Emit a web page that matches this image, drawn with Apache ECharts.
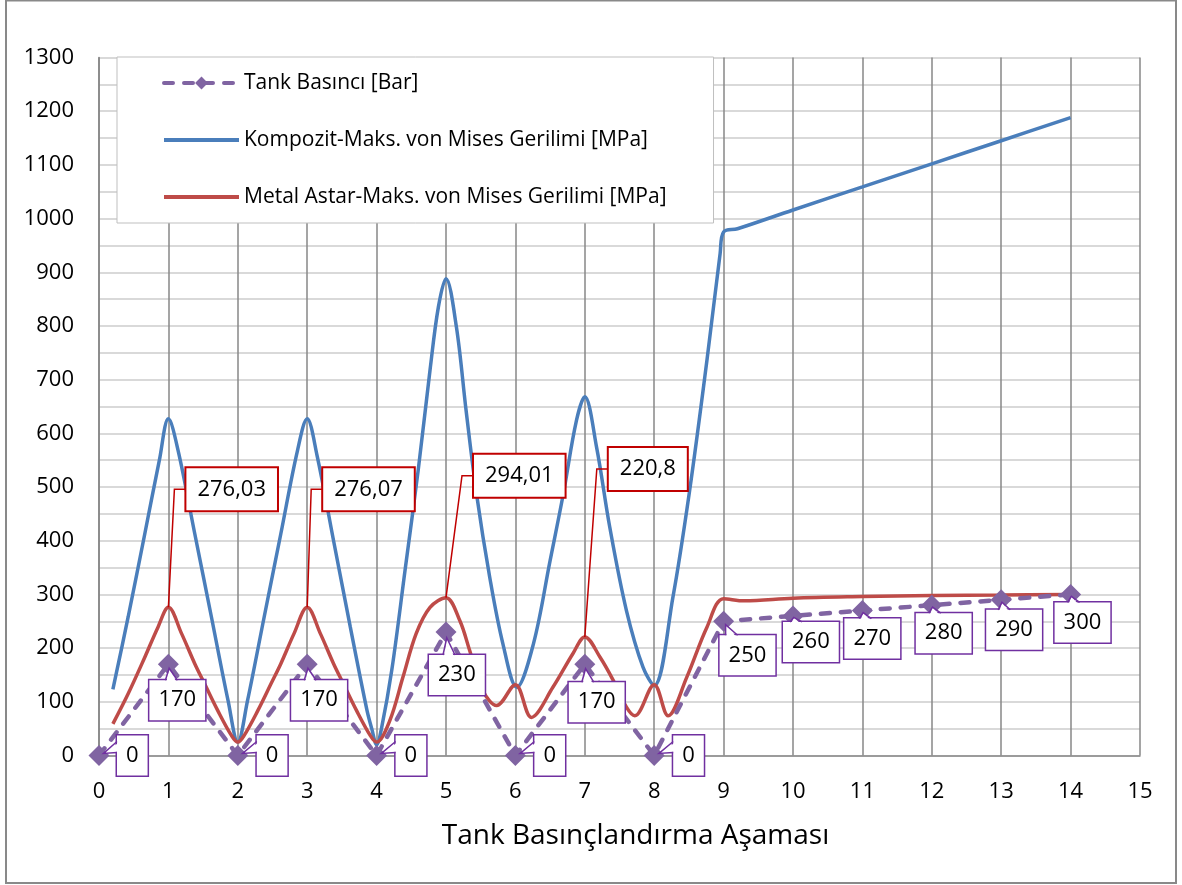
<!DOCTYPE html>
<html><head><meta charset="utf-8">
<script src="https://cdn.jsdelivr.net/npm/echarts@6/dist/echarts.min.js"></script>
<style>html,body{margin:0;padding:0;background:#fff}#c{width:1182px;height:885px}</style>
</head><body><div id="c"></div>
<script>
// ---- data ----
const seriesNames = ['Tank Basıncı [Bar]', 'Kompozit-Maks. von Mises Gerilimi [MPa]', 'Metal Astar-Maks. von Mises Gerilimi [MPa]'];
const xAxisTitle = 'Tank Basınçlandırma Aşaması';

const tankX = [0, 1, 2, 3, 4, 5, 6, 7, 8, 9, 10, 11, 12, 13, 14];
const tankY = [0, 170, 0, 170, 0, 230, 0, 170, 0, 250, 260, 270, 280, 290, 300];

const kompX = [0.2,0.42,0.66,0.87,1.0,1.14,1.38,1.62,1.86,2.0,2.14,2.38,2.62,2.86,3.0,3.14,3.38,3.62,3.86,3.93,4.0,4.07,4.22,4.41,4.6,4.77,4.89,5.0,5.15,5.29,5.44,5.63,5.82,6.02,6.26,6.5,6.69,6.88,7.0,7.17,7.36,7.6,7.84,8.0,8.27,8.51,8.76,8.95,9.0,9.2,10,11,12,13,14];
const kompY = [123,258,413,550,627,568,413,258,102,25,102,258,413,568,627,560,400,240,85,50,20,50,160,345,532,718,835,888,798,642,487,332,208,127,208,363,487,624,668,574,425,270,164,130,295,493,736,935,975,981,1016,1059,1102,1145,1188];

const metalX = [0.2,0.42,0.66,0.85,1.0,1.19,1.38,1.52,1.71,1.91,2.0,2.09,2.29,2.48,2.62,2.81,3.0,3.19,3.38,3.52,3.71,3.91,4.0,4.19,4.38,4.57,4.77,5.0,5.2,5.34,5.53,5.73,6.0,6.23,6.54,6.83,7.0,7.22,7.41,7.6,7.72,8.0,8.2,8.47,8.76,9.0,9.3,10,11,12,13,14];
const metalY = [59,115,183,239,276.03,227,171,134,84,37,25,37,84,134,171,227,276.07,227,171,134,84,37,25,65,146,227,276,294.01,251,196,121,93,132,71,127,190,220.8,183,140,90,74,132,74,146,239,292,288,293,296,298,299,300];

const metalPeakX = [1, 3, 5, 7];
const metalPeakY = [276.03, 276.07, 294.01, 220.8];

const yMin = 0, yMax = 1300, yStep = 100;
const xMin = 0, xMax = 15, xStep = 1;

// ---- label placement (pixel offsets of each box's top-left corner from its point) ----
const tankLabelOffsets = [[18,-20],[-19,16],[19,-20],[-16,16],[19,-20],[-17,23],[19,-20],[-16,18],[19,-20],[-4,14],[-10,6],[-18,8],[-16,8],[-15,10],[-16,8]];
const metalLabelOffsets = [[18,-139],[16,-139],[28,-143],[24,-189]];

const FAMILY = '"Open Sans", "Liberation Sans", sans-serif';
const FONT = '22px ' + FAMILY;
const PURPLE_BOX = '#7030A0';
const RED_BOX = '#C00000';
const LINE_H = 26;

function tankLabel(params, api) {
  const i = params.dataIndex;
  const p = api.coord([api.value(0), api.value(1)]);
  const off = tankLabelOffsets[i];
  const left = p[0] + off[0], top = p[1] + off[1];
  const txt = String(api.value(1));
  let a, b;
  if (p[1] > top + 4) { // tail on the left edge
    a = [left, top + 6]; b = [left, top + 17];
  } else {              // tail on the top edge
    const x0 = Math.max(left + 6, p[0] - 3);
    a = [x0, top]; b = [x0 + 12, top];
  }
  const mx = (a[0] + b[0]) / 2, my = (a[1] + b[1]) / 2;
  const apex = [p[0] + (mx - p[0]) * 0.25, p[1] + (my - p[1]) * 0.25];
  const leftEdge = a[0] === b[0];
  const cover = leftEdge
    ? [[a[0] + 2, a[1] + 1], apex, [b[0] + 2, b[1] - 1]]
    : [[a[0] + 1, a[1] + 2], apex, [b[0] - 1, b[1] + 2]];
  return {
    type: 'group',
    children: [
      { type: 'text', z2: 1, style: { x: left, y: top, text: txt, font: FONT, fill: '#000',
          align: 'left', verticalAlign: 'top', lineHeight: LINE_H, padding: [7, 9, 7, 9],
          backgroundColor: '#fff', borderColor: PURPLE_BOX, borderWidth: 1.5 } },
      { type: 'polygon', z2: 2, shape: { points: cover }, style: { fill: '#fff' } },
      { type: 'polyline', z2: 3, shape: { points: [a, apex, b] }, style: { stroke: PURPLE_BOX, lineWidth: 1.5, fill: null } }
    ]
  };
}

function metalLabel(params, api) {
  const i = params.dataIndex;
  const p = api.coord([api.value(0), api.value(1)]);
  const off = metalLabelOffsets[i];
  const left = p[0] + off[0], top = p[1] + off[1];
  const mid = top + (LINE_H + 16) / 2;
  const txt = String(api.value(1)).replace('.', ',');
  return {
    type: 'group',
    children: [
      { type: 'polyline', z2: 1, shape: { points: [[p[0], p[1]], [left - 12, mid], [left, mid]] },
        style: { stroke: RED_BOX, lineWidth: 1.5, fill: null } },
      { type: 'text', z2: 2, style: { x: left, y: top, text: txt, font: FONT, fill: '#000',
          align: 'left', verticalAlign: 'top', lineHeight: LINE_H, padding: [8, 11, 8, 11],
          backgroundColor: '#fff', borderColor: RED_BOX, borderWidth: 2 } }
    ]
  };
}

const zip = (xs, ys) => xs.map((x, i) => [x, ys[i]]);

const chart = echarts.init(document.getElementById('c'), null, { renderer: 'canvas' });
chart.setOption({
  animation: false,
  backgroundColor: '#fff',
  textStyle: { fontFamily: FAMILY },
  graphic: [{
    type: 'rect', silent: true, z: 0,
    shape: { x: 6, y: 0.5, width: 1170, height: 882.5 },
    style: { fill: 'none', stroke: '#898989', lineWidth: 2 }
  }],
  grid: { left: 99, right: 42, top: 57.5, bottom: 129.5, containLabel: false },
  legend: {
    data: [
      { name: seriesNames[0] },
      { name: seriesNames[1], itemStyle: { opacity: 0 } },
      { name: seriesNames[2], itemStyle: { opacity: 0 } }
    ],
    orient: 'vertical',
    left: 117, top: 57,
    padding: [14, 47, 14, 45],
    itemGap: 33,
    itemWidth: 75, itemHeight: 16,
    backgroundColor: '#fff',
    borderColor: '#bfbfbf', borderWidth: 1,
    lineStyle: { width: 4 },
    textStyle: { fontSize: 21, color: '#000', lineHeight: 24, fontFamily: FAMILY }
  },
  xAxis: {
    type: 'value', min: xMin, max: xMax, interval: xStep,
    name: xAxisTitle, nameLocation: 'middle', nameGap: 64,
    nameTextStyle: { fontSize: 28, color: '#000', lineHeight: 34, padding: [0, 0, 0, 32] },
    axisLine: { show: true, lineStyle: { color: '#868686', width: 1.5 } },
    axisTick: { show: false },
    axisLabel: { fontSize: 22, color: '#000', margin: 23, lineHeight: 26 },
    splitLine: { show: true, lineStyle: { color: '#878787', width: 1.5 } }
  },
  yAxis: {
    type: 'value', min: yMin, max: yMax, interval: yStep,
    axisLine: { show: true, lineStyle: { color: '#868686', width: 1.5 } },
    axisTick: { show: false },
    axisLabel: { fontSize: 22, color: '#000', margin: 25, formatter: v => String(v) },
    splitLine: { show: true, lineStyle: { color: '#d9d9d9', width: 2 } },
    minorTick: { show: false, splitNumber: 2 },
    minorSplitLine: { show: true, lineStyle: { color: '#d9d9d9', width: 2 } }
  },
  series: [
    {
      name: seriesNames[1], type: 'line', z: 2,
      data: zip(kompX, kompY), smooth: 0.35, showSymbol: false, symbol: 'none',
      lineStyle: { color: '#4A7EBB', width: 3.5 }, itemStyle: { color: '#4A7EBB' }
    },
    {
      name: seriesNames[2], type: 'line', z: 2,
      data: zip(metalX, metalY), smooth: 0.35, showSymbol: false, symbol: 'none',
      lineStyle: { color: '#BE4B48', width: 3.5 }, itemStyle: { color: '#BE4B48' }
    },
    {
      name: seriesNames[0], type: 'line', z: 3,
      data: zip(tankX, tankY), symbol: 'diamond', symbolSize: 21, showAllSymbol: true,
      lineStyle: { color: '#8064A2', width: 4.5, type: [9, 11], cap: 'round' },
      itemStyle: { color: '#8064A2' }
    },
    {
      type: 'custom', z: 5, silent: true, clip: false,
      data: zip(tankX, tankY), renderItem: tankLabel
    },
    {
      type: 'custom', z: 5, silent: true, clip: false,
      data: zip(metalPeakX, metalPeakY), renderItem: metalLabel
    }
  ]
});
</script>
</body></html>
